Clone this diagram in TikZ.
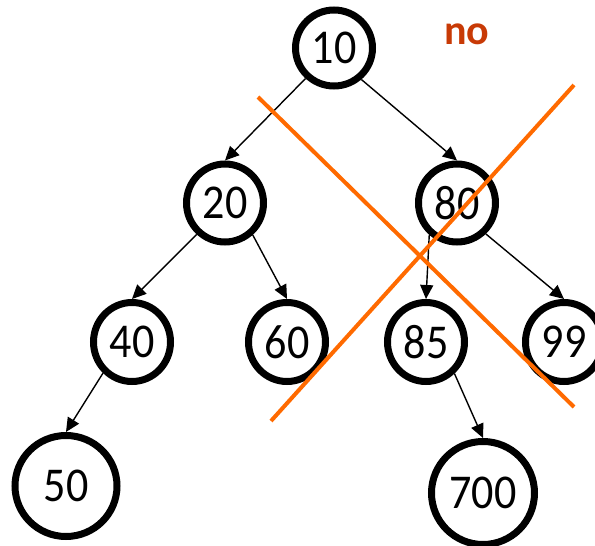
\documentclass[tikz,border=0pt]{standalone}
\usepackage{fontspec}
\usepackage{graphicx}
\setmainfont{Carlito}
\usetikzlibrary{shapes.geometric,arrows.meta}
\definecolor{crossorange}{RGB}{255,106,0}
\definecolor{notered}{RGB}{200,58,6}
\newcommand{\keytext}[1]{\scalebox{0.98}[1.08]{#1}}
\tikzset{
  keynode/.style={ellipse, draw=black, line width=7pt, inner sep=0pt,
    font=\fontsize{45}{52}\selectfont},
  small/.style={keynode, minimum width=77pt, minimum height=79pt},
  big/.style={keynode, minimum width=102pt, minimum height=101pt},
  link/.style={line width=1.4pt, -{Triangle[length=14pt,width=13pt]}},
  cross/.style={crossorange, line width=4pt},
}
\begin{document}
\begin{tikzpicture}[x=1pt,y=-1pt]
\useasboundingbox (0,0) rectangle (595,546);

% tree nodes
\node[small, minimum height=76pt] (n10) at (334,48) {\keytext{10}};
\node[small, minimum height=78pt] (n20) at (225,203) {\keytext{20}};
\node[small, minimum height=78pt] (n80) at (457,203) {\keytext{80}};
\node[small] (n40) at (132,342) {\keytext{40}};
\node[small] (n60) at (287,342) {\keytext{60}};
\node[small] (n85) at (426,342) {\keytext{85}};
\node[small] (n99) at (564,342) {\keytext{99}};
\node[big] (n50) at (66,486) {\keytext{50}};
\node[big, minimum width=103pt, minimum height=103pt] (n700) at (483,493) {\keytext{700}};

% child links
\draw[link] (n10.227) -- (n20.north);
\draw[link] (n10.311) -- (n80.north);
\draw[link] (n20.228) -- (n40.north);
\draw[link] (n20.311) -- (n60.north);
\draw[link] (n80.229) -- (n85.north);
\draw[link] (n80.313) -- (n99.north);
\draw[link] (n40.227) -- (n50.north);
\draw[link] (n85.312) -- (n700.north);

% the crossing-out mark over the right subtree
\coordinate (c1a) at (258,97);
\coordinate (c1b) at (574,407);
\coordinate (c2a) at (574,85);
\coordinate (c2b) at (271,421);
\draw[cross] (c1a) -- (c1b);
\draw[cross] (c2a) -- (c2b);

% verdict label
\node[text=notered, font=\bfseries\fontsize{42}{50}\selectfont, anchor=base]
  (verdict) at (467,45) {no};
\end{tikzpicture}
\end{document}
